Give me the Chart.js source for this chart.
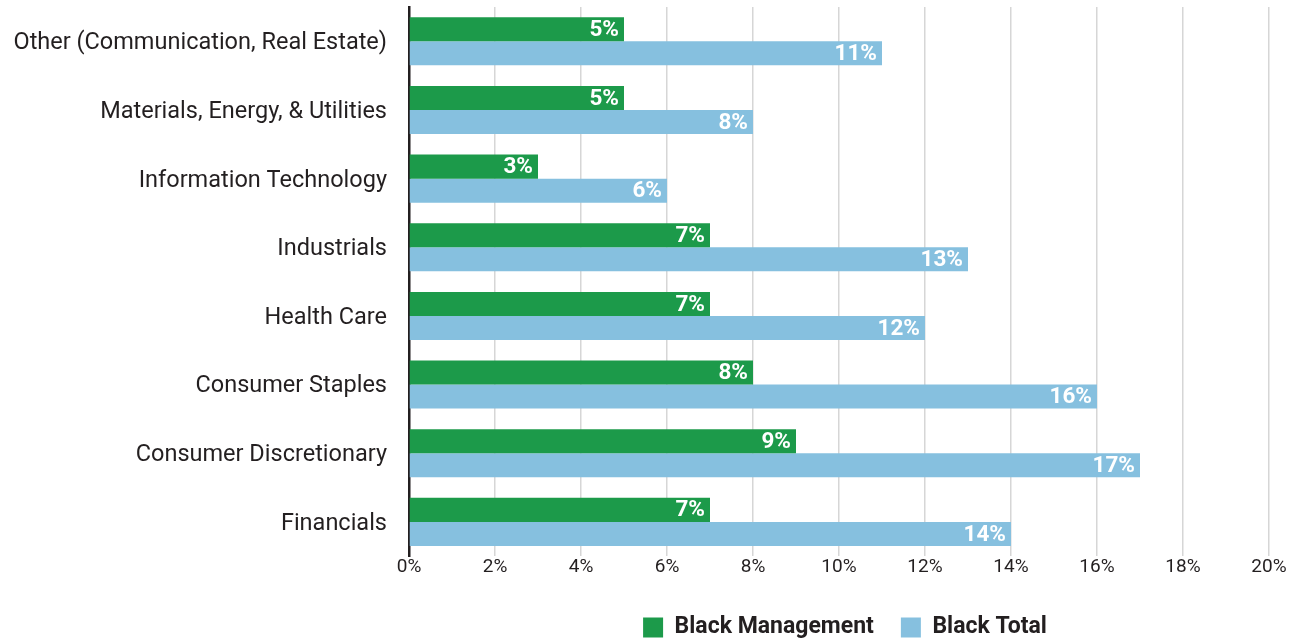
<!DOCTYPE html>
<html>
<head>
<meta charset="utf-8">
<title>Black representation by sector</title>
<script src="https://cdn.jsdelivr.net/npm/chart.js@4/dist/chart.umd.min.js"></script>
<style>
  html, body { margin: 0; padding: 0; background: #fff; }
  #wrap { width: 1306px; height: 639px; }
</style>
</head>
<body>
<div id="wrap"><canvas id="chart" width="1306" height="639"></canvas></div>
<script>
const sectors = [
  'Other (Communication, Real Estate)',
  'Materials, Energy, & Utilities',
  'Information Technology',
  'Industrials',
  'Health Care',
  'Consumer Staples',
  'Consumer Discretionary',
  'Financials'
];
const blackManagement = [5, 5, 3, 7, 7, 8, 9, 7];
const blackTotal = [11, 8, 6, 13, 12, 16, 17, 14];
const xTicks = [0, 2, 4, 6, 8, 10, 12, 14, 16, 18, 20];

const GREEN = '#1c9a4a';
const BLUE = '#86c0df';
const INK = '#231f20';
const FONT = 'Roboto, "Open Sans", sans-serif';

// white value text sitting inside the right end of each bar
const barValues = {
  id: 'barValues',
  afterDatasetsDraw(chart) {
    const ctx = chart.ctx;
    ctx.save();
    ctx.fillStyle = '#fff';
    ctx.font = 'bold 22.5px ' + FONT;
    ctx.textAlign = 'right';
    ctx.textBaseline = 'middle';
    chart.data.datasets.forEach((ds, i) => {
      chart.getDatasetMeta(i).data.forEach((bar, j) => {
        ctx.fillText(ds.data[j] + '%', bar.x - 5, bar.y + 1);
      });
    });
    ctx.restore();
  }
};

// keep the legend centred under the plot rather than the whole canvas
const legendUnderPlot = {
  id: 'legendUnderPlot',
  afterLayout(chart) {
    const lg = chart.legend;
    lg.left = chart.chartArea.left + 12;
    lg.right = chart.chartArea.right;
    lg.top += 10;
    lg.bottom += 10;
  }
};

new Chart(document.getElementById('chart'), {
  type: 'bar',
  data: {
    labels: sectors,
    datasets: [
      { label: 'Black Management', data: blackManagement, backgroundColor: GREEN },
      { label: 'Black Total', data: blackTotal, backgroundColor: BLUE }
    ]
  },
  options: {
    indexAxis: 'y',
    responsive: false,
    animation: false,
    devicePixelRatio: 1,
    categoryPercentage: 0.7,
    barPercentage: 1.0,
    layout: { padding: { top: 7, right: 37, bottom: 0, left: 0 } },
    scales: {
      x: {
        min: 0,
        max: 20,
        afterBuildTicks(scale) {
          scale.ticks = xTicks.map(v => ({ value: v }));
        },
        grid: { color: '#d6d6d6', lineWidth: 1.5, drawTicks: false },
        border: { display: false },
        ticks: {
          color: INK,
          padding: 0,
          font: { family: FONT, size: 19 },
          callback: v => v + '%'
        }
      },
      y: {
        afterFit(scale) {
          scale.width = 409;
          // label padding should not push the plot away from the top and bottom
          scale.paddingTop = 0;
          scale.paddingBottom = 0;
        },
        grid: { display: false, drawTicks: false },
        border: { display: true, color: INK, width: 2.5 },
        ticks: {
          color: INK,
          padding: 22,
          labelOffset: 2,
          font: { family: FONT, size: 23.5 }
        }
      }
    },
    plugins: {
      legend: {
        position: 'bottom',
        labels: {
          boxWidth: 20,
          boxHeight: 20,
          padding: 27,
          color: INK,
          font: { family: FONT, size: 23, weight: 'bold' }
        }
      },
      tooltip: { enabled: false }
    }
  },
  plugins: [barValues, legendUnderPlot]
});
</script>
</body>
</html>
